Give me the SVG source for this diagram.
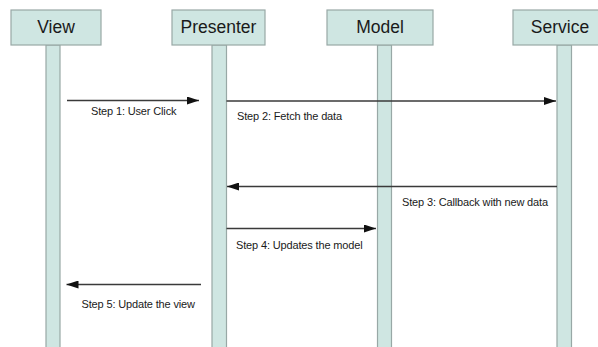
<svg xmlns="http://www.w3.org/2000/svg" width="598" height="347" viewBox="0 0 598 347">
<defs>
<style>
.box{fill:#cfe6e2;stroke:#98a8a6;stroke-width:1.2}
.life{fill:#cfe6e2;stroke:#98a8a6;stroke-width:1.2}
.title{font-family:"Liberation Sans",Arial,sans-serif;font-size:17.5px;fill:#1a1a1a;text-anchor:middle}
.msg{stroke:#3a3a3a;stroke-width:1.3;fill:none;marker-end:url(#ah)}
.lbl{font-family:"Liberation Sans",Arial,sans-serif;font-size:11px;fill:#1a1a1a;letter-spacing:-0.15px}
</style>
<marker id="ah" viewBox="0 0 12 8" refX="12" refY="4" markerUnits="userSpaceOnUse" markerWidth="12" markerHeight="8" orient="auto">
<path d="M0,0 L12,4 L0,8 Z" fill="#111"/>
</marker>
</defs>
<rect width="598" height="347" fill="#ffffff"/>
<g id="view">
<rect class="life" x="46" y="45" width="14" height="310"/>
<rect class="box" x="11" y="10" width="90" height="35"/>
<text class="title" x="56" y="33">View</text>
</g>
<g id="presenter">
<rect class="life" x="212" y="45" width="14.5" height="310"/>
<rect class="box" x="172" y="10" width="93" height="35"/>
<text class="title" x="218.5" y="33">Presenter</text>
</g>
<g id="model">
<rect class="life" x="377.5" y="45" width="14" height="310"/>
<rect class="box" x="327" y="10" width="106" height="35"/>
<text class="title" x="380" y="33">Model</text>
</g>
<g id="service">
<rect class="life" x="557" y="45" width="14.5" height="310"/>
<rect class="box" x="513" y="10" width="100" height="35"/>
<text class="title" x="560" y="33">Service</text>
</g>
<g id="connectors">
<line class="msg" x1="67" y1="100.5" x2="199" y2="100.5"/>
<line class="msg" x1="226.5" y1="101" x2="556" y2="101"/>
<line class="msg" x1="557" y1="186.5" x2="227" y2="186.5"/>
<line class="msg" x1="226.5" y1="228.5" x2="376" y2="228.5"/>
<line class="msg" x1="201" y1="284.5" x2="66.5" y2="284.5"/>
</g>
<g id="labels">
<text class="lbl" x="91" y="114.5">Step 1: User Click</text>
<text class="lbl" x="237" y="119.5">Step 2: Fetch the data</text>
<text class="lbl" x="402" y="205.5">Step 3: Callback with new data</text>
<text class="lbl" x="236" y="249">Step 4: Updates the model</text>
<text class="lbl" x="81.5" y="308">Step 5: Update the view</text>
</g>
</svg>
